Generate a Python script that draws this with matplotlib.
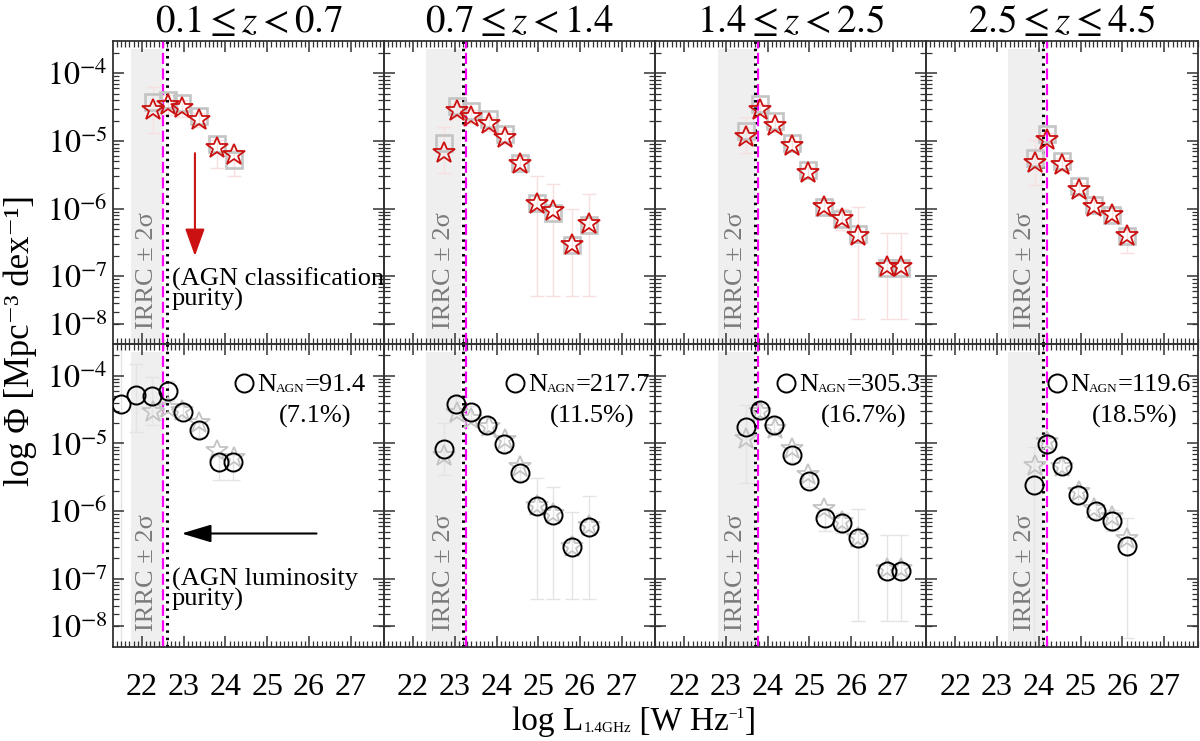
import numpy as np
import matplotlib
matplotlib.use('Agg')
from matplotlib import pyplot as plt
from matplotlib import ticker, transforms

plt.rcParams['font.family'] = ['Liberation Serif', 'DejaVu Serif']
plt.rcParams['mathtext.fontset'] = 'stix'

z_titles = [r'$0.1 \leq z < 0.7$', r'$0.7 \leq z < 1.4$',
            r'$1.4 \leq z < 2.5$', r'$2.5 \leq z \leq 4.5$']

# IRRC +/- 2 sigma band and the two luminosity limits (log L)
irrc_lo = [21.74, 22.31, 22.81, 23.25]
irrc_hi = [22.51, 23.15, 23.69, 24.11]
lim_dotted = [22.59, 23.19, 23.69, 24.11]
lim_dashed = [22.51, 23.26, 23.76, 24.19]

# top row: red stars (and grey squares behind), log Phi
star_x = [[22.27, 22.63, 22.95, 23.37, 23.79, 24.21],
          [22.73, 23.05, 23.39, 23.81, 24.20, 24.55, 24.97, 25.34, 25.81, 26.22],
          [23.48, 23.81, 24.17, 24.59, 24.97, 25.34, 25.77, 26.16, 26.86, 27.20],
          [23.91, 24.19, 24.56, 24.96, 25.33, 25.74, 26.10]]
star_phi = [[-4.54, -4.47, -4.52, -4.69, -5.11, -5.21],
            [-5.18, -4.55, -4.64, -4.75, -4.95, -5.34, -5.93, -6.04, -6.53, -6.22],
            [-4.94, -4.54, -4.78, -5.08, -5.47, -5.97, -6.16, -6.40, -6.86, -6.86],
            [-5.33, -4.98, -5.35, -5.72, -5.97, -6.09, -6.41]]
star_up = [[0.34, 0.15, 0.12, 0.10, 0.13, 0.08],
           [0.39, 0.10, 0.10, 0.10, 0.10, 0.10, 0.41, 0.40, 0.52, 0.44],
           [0.30, 0.08, 0.08, 0.08, 0.08, 0.12, 0.15, 0.43, 0.50, 0.50],
           [0.34, 0.10, 0.10, 0.10, 0.10, 0.10, 0.10]]
star_dn = [[0.34, 0.15, 0.12, 0.10, 0.29, 0.31],
           [0.30, 0.10, 0.10, 0.10, 0.10, 0.10, 1.36, 1.25, 0.76, 1.07],
           [0.24, 0.08, 0.08, 0.08, 0.08, 0.12, 0.15, 1.23, 0.77, 0.77],
           [0.32, 0.10, 0.10, 0.10, 0.10, 0.10, 0.24]]
square_phi = [[-4.42, -4.39, -4.44, -4.63, -5.04, -5.28],
              [-5.03, -4.49, -4.55, -4.67, -4.90, -5.33, -5.92, -6.06, -6.53, -6.24],
              [-4.85, -4.45, -4.71, -5.03, -5.43, -5.97, -6.16, -6.38, -6.87, -6.87],
              [-5.25, -4.89, -5.29, -5.67, -5.94, -6.09, -6.41]]

# bottom row: black circles, log Phi
circ_x = [[21.49, 21.85, 22.24, 22.62, 22.99, 23.37, 23.85, 24.19],
          [22.74, 23.02, 23.39, 23.76, 24.17, 24.55, 24.97, 25.34, 25.81, 26.22],
          [23.47, 23.81, 24.16, 24.59, 24.98, 25.38, 25.77, 26.16, 26.86, 27.20],
          [23.89, 24.19, 24.56, 24.94, 25.38, 25.76, 26.12]]
circ_phi = [[-4.42, -4.29, -4.30, -4.22, -4.53, -4.80, -5.28, -5.28],
            [-5.08, -4.41, -4.54, -4.72, -5.01, -5.44, -5.93, -6.06, -6.53, -6.24],
            [-4.76, -4.51, -4.73, -5.17, -5.55, -6.10, -6.17, -6.39, -6.88, -6.88],
            [-5.61, -5.01, -5.33, -5.76, -6.00, -6.14, -6.51]]
circ_up = [[1.20, 0.47, 0.28, 0.15, 0.10, 0.10, 0.11, 0.11],
           [0.38, 0.10, 0.10, 0.10, 0.10, 0.10, 0.42, 0.42, 0.52, 0.46],
           [0.33, 0.10, 0.10, 0.10, 0.10, 0.14, 0.15, 0.42, 0.53, 0.53],
           [0.56, 0.10, 0.10, 0.10, 0.10, 0.15, 0.41]]
circ_dn = [[3.60, 0.54, 0.43, 0.15, 0.10, 0.10, 0.26, 0.26],
           [0.39, 0.10, 0.10, 0.10, 0.10, 0.10, 1.37, 1.24, 0.77, 1.06],
           [0.83, 0.10, 0.10, 0.10, 0.10, 0.19, 0.15, 1.23, 0.74, 0.74],
           [2.50, 0.10, 0.10, 0.10, 0.10, 0.15, 1.36]]

n_agn = [91.4, 217.7, 305.3, 119.6]
agn_frac = [7.1, 11.5, 16.7, 18.5]

ytick_pos = [-4, -5, -6, -7, -7.7]
ytick_lab = [r'$10^{-4}$', r'$10^{-5}$', r'$10^{-6}$', r'$10^{-7}$', r'$10^{-8}$']

RED = '#cc1111'
AX = '#333333'


def yerr_lin(phi, up, dn):
    phi = np.array(phi)
    lo = 10**phi - 10**(phi - np.array(dn))
    hi = 10**(phi + np.array(up)) - 10**phi
    return [lo, hi]


def chain_text(ax, first, parts):
    # glue pieces of text (with own size / vertical shift) right after `first`
    prev = first
    for s, fs, dy in parts:
        prev = ax.annotate(s, xy=(1, 0), xycoords=(prev, first), xytext=(0, dy),
                           textcoords='offset points', fontsize=fs, ha='left', va='bottom',
                           annotation_clip=False)
    return prev


fig, axes = plt.subplots(2, 4, figsize=(12, 7.41), dpi=100, sharex=True, sharey=True)
fig.subplots_adjust(left=0.0942, right=0.998, top=0.944, bottom=0.1275, wspace=0, hspace=0)

for col in range(4):
    for row in range(2):
        ax = axes[row, col]
        ax.patch.set_visible(False)
        ax.set_yscale('log')
        ax.set_xlim(21.31, 27.8)
        ax.set_ylim(10**-8.0, 10**-3.53)
        ax.axvspan(irrc_lo[col], irrc_hi[col], ymin=0, ymax=0.975, color='#efefef', lw=0, zorder=0)
        trans = transforms.blended_transform_factory(ax.transData, ax.transAxes)
        ax.text(0.5 * (irrc_lo[col] + irrc_hi[col]), 0.05, 'IRRC ± 2σ', rotation=90,
                ha='center', va='bottom', color='#7a7a7a', fontsize=19, transform=trans, zorder=1)
        ax.axvline(lim_dashed[col], color='#ff00ff', lw=1.6, ls=(0, (5, 2)), zorder=2)
        ax.axvline(lim_dotted[col], color='black', lw=2.2, ls=(0, (0.8, 1.6)), zorder=2)

        ax.xaxis.set_major_locator(ticker.FixedLocator([22, 23, 24, 25, 26, 27]))
        ax.xaxis.set_minor_locator(ticker.MultipleLocator(0.1))
        ax.yaxis.set_major_locator(ticker.FixedLocator([10**v for v in ytick_pos]))
        ax.yaxis.set_major_formatter(ticker.FixedFormatter(ytick_lab))
        ax.yaxis.set_minor_locator(ticker.LogLocator(base=10, subs=np.arange(2, 10), numticks=20))
        ax.yaxis.set_minor_formatter(ticker.NullFormatter())
        ax.tick_params(which='both', direction='in', top=True, right=True, color=AX)
        ax.tick_params(which='major', length=8, width=1.1)
        ax.tick_params(axis='x', which='major', labelsize=23, pad=19)
        ax.tick_params(axis='y', which='major', labelsize=23, pad=4)
        ax.tick_params(which='minor', length=4, width=0.9)
        for s in ax.spines.values():
            s.set_color(AX)
            s.set_linewidth(1.3)

    # top row
    ax = axes[0, col]
    sx = np.array(star_x[col])
    ax.errorbar(sx, 10**np.array(star_phi[col]), yerr=yerr_lin(star_phi[col], star_up[col], star_dn[col]),
                fmt='none', ecolor='#f9e0e0', elinewidth=1, capsize=5, zorder=1)
    ax.plot(sx, 10**np.array(square_phi[col]), 's', ms=12, mfc='none', mec='#c4c4c4', mew=1.9, zorder=3)
    ax.plot(sx, 10**np.array(star_phi[col]), '*', ms=16.5, mfc='none', mec=RED, mew=1.3, zorder=4)
    ax.set_title(z_titles[col], fontsize=28, pad=6)

    # bottom row
    ax = axes[1, col]
    cx = np.array(circ_x[col])
    ax.errorbar(cx, 10**np.array(circ_phi[col]), yerr=yerr_lin(circ_phi[col], circ_up[col], circ_dn[col]),
                fmt='none', ecolor='#e4e4e4', elinewidth=1, capsize=5, zorder=1)
    ax.plot(sx, 10**np.array(star_phi[col]), '*', ms=16.5, mfc='none', mec='#c4c4c4', mew=1.3, zorder=3)
    ax.plot(cx, 10**np.array(circ_phi[col]), 'o', ms=13, mfc='none', mec='black', mew=1.4, zorder=4)
    ax.plot([0.483], [0.87], 'o', ms=13, mfc='none', mec='black', mew=1.4, transform=ax.transAxes,
            clip_on=False)
    t0 = ax.text(0.53, 0.845, 'N', transform=ax.transAxes, ha='left', va='baseline', fontsize=19)
    chain_text(ax, t0, [('AGN', 9.5, 0.5), (f'={n_agn[col]}', 19, 0)])
    ax.text(0.61, 0.76, f'({agn_frac[col]}%)', transform=ax.transAxes,
            ha='left', va='center', fontsize=19)

# purity annotations in the first column
ax = axes[0, 0]
ax.annotate('', xy=(23.27, 10**-6.7), xytext=(23.27, 10**-5.18),
            arrowprops=dict(arrowstyle='-|>,head_length=1.2,head_width=0.43', mutation_scale=14,
                            color=RED, lw=1.5, shrinkA=0, shrinkB=0))
ax.text(22.71, 10**-6.87, '(AGN classification\npurity)', ha='left', va='top', fontsize=19, linespacing=0.8)

ax = axes[1, 0]
ax.annotate('', xy=(22.95, 10**-6.33), xytext=(26.18, 10**-6.33),
            arrowprops=dict(arrowstyle='-|>,head_length=1.3,head_width=0.39', mutation_scale=14,
                            color='black', lw=1.5, shrinkA=0, shrinkB=0))
ax.text(22.71, 10**-6.84, '(AGN luminosity\npurity)', ha='left', va='top', fontsize=19, linespacing=0.8)

# axis labels
xl = fig.text(0.4267, 0.0155, 'log L', ha='left', va='baseline', fontsize=24)
chain_text(axes[1, 0], xl, [('1.4GHz', 11, 1.3), (' [W Hz', 24, 0), ('−1', 11, 11), (']', 24, 0)])
fig.text(0.017, 0.54, 'log Φ [Mpc⁻³ dex⁻¹]', ha='center', va='center',
         rotation=90, fontsize=25)

fig.savefig('out.png', dpi=100)
